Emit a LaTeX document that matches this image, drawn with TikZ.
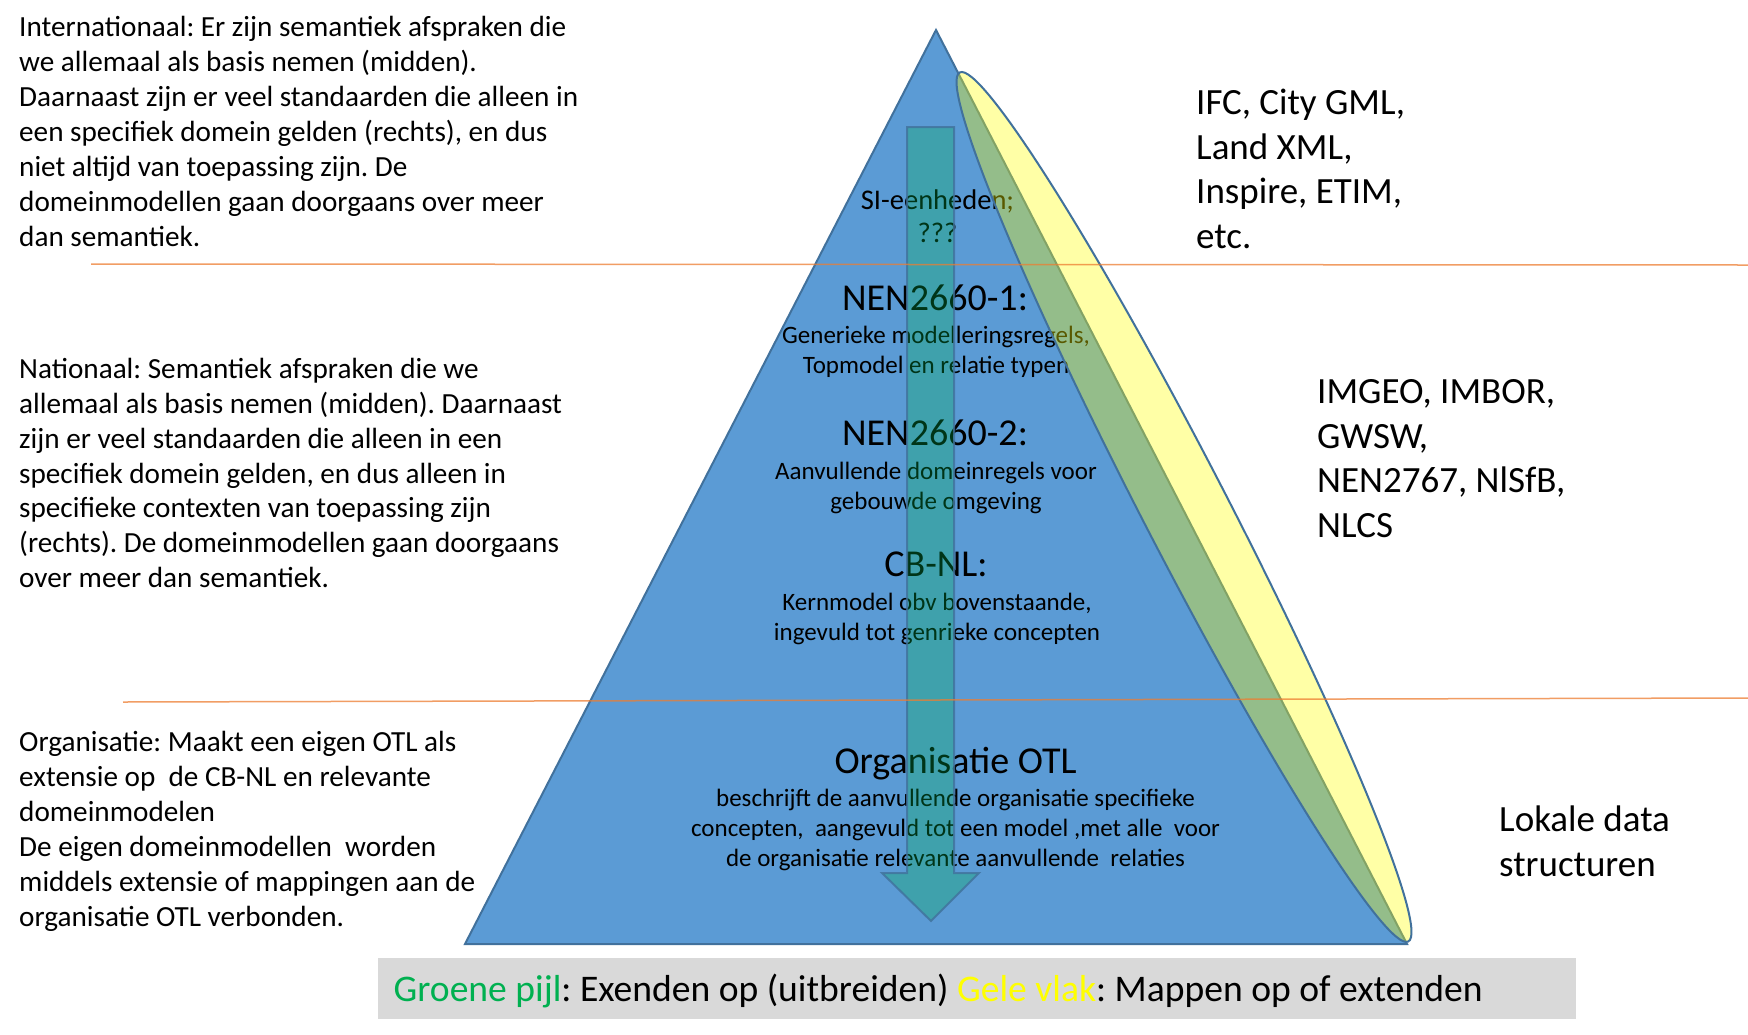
\documentclass[tikz,border=0pt]{standalone}
\usepackage{fontspec}
\setmainfont{Carlito}
\frenchspacing
\definecolor{triblue}{HTML}{5B9BD5}
\definecolor{triedge}{HTML}{41719C}
\definecolor{arrowgreen}{HTML}{00B050}
\definecolor{ellyellow}{HTML}{FFFF00}
\definecolor{sepline}{HTML}{ED7D31}
\definecolor{legendgray}{HTML}{D9D9D9}
\definecolor{txtgreen}{HTML}{00B050}
\definecolor{txtyellow}{HTML}{FFFF00}
\newcommand{\tstrut}{\rule{0pt}{0.8em}}
\begin{document}
\begin{tikzpicture}[x=1pt,y=-1pt,
  tri/.style={fill=triblue,draw=triedge,line width=2pt,line join=miter},
  arrowshape/.style={fill=arrowgreen,fill opacity=0.3,draw=triedge,draw opacity=0.8,line width=2pt},
  ellshape/.style={fill=ellyellow,fill opacity=0.35,draw=triedge,line width=2pt},
  sepstyle/.style={draw=sepline,draw opacity=0.75,line width=1.5pt},
  lefttext/.style={anchor=north west,inner sep=0pt,align=left,font=\fontsize{29.2}{34.9}\selectfont},
  righttext/.style={anchor=north west,inner sep=0pt,align=left,font=\fontsize{37}{44.6}\selectfont},
  headtext/.style={anchor=base,inner sep=0pt,font=\fontsize{38}{46}\selectfont},
  bodytext/.style={anchor=north,inner sep=0pt,align=center,font=\fontsize{25}{30}\selectfont},
  legendtext/.style={anchor=base west,inner sep=0pt,font=\fontsize{37.6}{45}\selectfont}
]
\useasboundingbox (0,0) rectangle (1748,1034);
\fill[white] (0,0) rectangle (1748,1034);

% pyramid
\coordinate (apex) at (936,30);
\coordinate (bl) at (465,944);
\coordinate (br) at (1407,944);
\draw[tri] (apex) -- (br) -- (bl) -- cycle;

% texts inside pyramid
\node[bodytext,font=\fontsize{28.5}{33.4}\selectfont] (si) at (937.5,186) {\tstrut SI-eenheden;\\???};
\node[headtext] (nen1) at (935,310.7) {NEN2660-1:};
\node[bodytext] (nen1b) at (936,323) {\tstrut Generieke modelleringsregels,\\Topmodel en relatie typen};
\node[headtext] (nen2) at (935,445.6) {NEN2660-2:};
\node[bodytext] (nen2b) at (936,459) {\tstrut Aanvullende domeinregels voor\\gebouwde omgeving};
\node[headtext] (cbnl) at (936,576) {CB-NL:};
\node[bodytext] (cbnlb) at (937,590) {\tstrut Kernmodel obv bovenstaande,\\ingevuld tot genrieke concepten};
\node[headtext] (otl) at (955.5,773) {Organisatie OTL};
\node[bodytext] (otlb) at (955.5,786) {\tstrut beschrijft de aanvullende organisatie specifieke\\concepten,\ \ aangevuld tot een model ,met alle\ \ voor\\de organisatie relevante aanvullende\ \ relaties};

% green arrow
\coordinate (a1) at (907,127);
\coordinate (a2) at (954,127);
\coordinate (a3) at (954,873);
\coordinate (a4) at (979,873);
\coordinate (tip) at (931,921);
\coordinate (a6) at (882,873);
\coordinate (a7) at (907,873);
\draw[arrowshape] (a1) -- (a2) -- (a3) -- (a4) -- (tip) -- (a6) -- (a7) -- cycle;

% yellow ellipse
\coordinate (ec) at (1184,507);
\draw[ellshape,rotate around={-62.7:(ec)}] (ec) ellipse [x radius=489, y radius=42.7];

% separator lines
\coordinate (l1a) at (91,264);
\coordinate (l1b) at (1748,265);
\coordinate (l2a) at (123,702);
\coordinate (l2b) at (1748,698);
\draw[sepstyle] (l1a) -- (l1b);
\draw[sepstyle] (l2a) -- (l2b);

% left explanations
\node[lefttext] (intl) at (19,13.2) {\tstrut Internationaal: Er zijn semantiek afspraken die\\we allemaal als basis nemen (midden).\\Daarnaast zijn er veel standaarden die alleen in\\een specifiek domein gelden (rechts), en dus\\niet altijd van toepassing zijn. De\\domeinmodellen gaan doorgaans over meer\\dan semantiek.};
\node[lefttext] (natl) at (19,354.8) {\tstrut Nationaal: Semantiek afspraken die we\\allemaal als basis nemen (midden). Daarnaast\\zijn er veel standaarden die alleen in een\\specifiek domein gelden, en dus alleen in\\specifieke contexten van toepassing zijn\\(rechts). De domeinmodellen gaan doorgaans\\over meer dan semantiek.};
\node[lefttext] (org) at (19,728.2) {\tstrut Organisatie: Maakt een eigen OTL als\\extensie op\ \ de CB-NL en relevante\\domeinmodelen\\De eigen domeinmodellen\ \ worden\\middels extensie of mappingen aan de\\organisatie OTL verbonden.};

% right lists
\node[righttext] (rint) at (1196,84.7) {\tstrut IFC, City GML,\\Land XML,\\Inspire, ETIM,\\etc.};
\node[righttext] (rnat) at (1317,373.7) {\tstrut IMGEO, IMBOR,\\GWSW,\\NEN2767, NlSfB,\\NLCS};
\node[righttext] (rorg) at (1499,801.7) {\tstrut Lokale data\\structuren};

% legend
\coordinate (lg1) at (378,958);
\coordinate (lg2) at (1576,1019);
\fill[legendgray] (lg1) rectangle (lg2);
\node[legendtext] (legend) at (393.5,1001) {\textcolor{txtgreen}{Groene pijl}: Exenden op (uitbreiden) \textcolor{txtyellow}{Gele vlak}: Mappen op of extenden};
\end{tikzpicture}
\end{document}
